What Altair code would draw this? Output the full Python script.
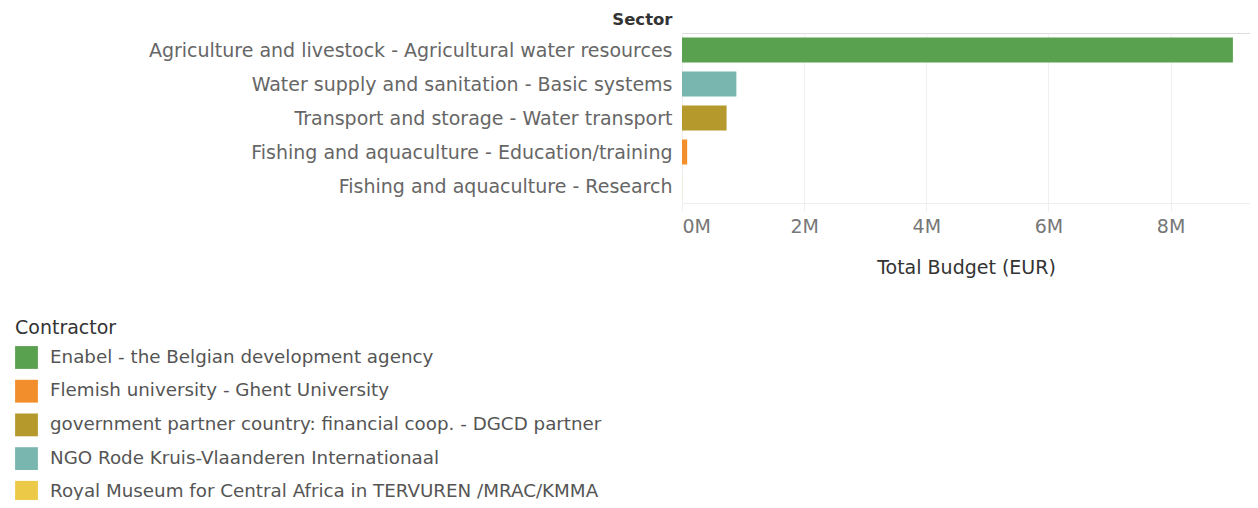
import altair as alt
import pandas as pd

sectors = [
    "Agriculture and livestock - Agricultural water resources",
    "Water supply and sanitation - Basic systems",
    "Transport and storage - Water transport",
    "Fishing and aquaculture - Education/training",
    "Fishing and aquaculture - Research",
]
contractors = [
    "Enabel - the Belgian development agency",
    "NGO Rode Kruis-Vlaanderen Internationaal",
    "government partner country: financial coop. - DGCD partner",
    "Flemish university - Ghent University",
    "Royal Museum for Central Africa in TERVUREN /MRAC/KMMA",
]
budgets = [9020000, 890000, 730000, 85000, 2000]

legend_order = [
    "Enabel - the Belgian development agency",
    "Flemish university - Ghent University",
    "government partner country: financial coop. - DGCD partner",
    "NGO Rode Kruis-Vlaanderen Internationaal",
    "Royal Museum for Central Africa in TERVUREN /MRAC/KMMA",
]
legend_colors = ["#59A14F", "#F28E2B", "#B6992D", "#79B6B0", "#EDC948"]

df = pd.DataFrame({"Sector": sectors, "Contractor": contractors, "Budget": budgets})

FONT = "DejaVu Sans"

chart = alt.Chart(df).mark_bar(size=25).encode(
    y=alt.Y("Sector:N", sort=sectors,
            scale=alt.Scale(paddingInner=0.26, paddingOuter=0.13),
            axis=alt.Axis(title="Sector", titleAngle=0, titleAlign="right",
                          titleAnchor="start", titleX=-10, titleY=-6, titleBaseline="bottom",
                          titleFontWeight="bold", titleColor="#333333", titleFontSize=16.5,
                          labelFontSize=19, labelColor="#666666", labelPadding=10, labelOffset=1,
                          ticks=False, domain=False, grid=False, labelLimit=700)),
    x=alt.X("Budget:Q", scale=alt.Scale(domain=[0, 9300000], nice=False),
            axis=alt.Axis(title="Total Budget (EUR)", values=[0, 2000000, 4000000, 6000000, 8000000],
                          labelExpr="datum.value/1000000 + 'M'", labelFlush=True,
                          labelFontSize=19, labelColor="#777777", labelPadding=6,
                          tickSize=8, tickColor="#eeeeee", domainColor="#eeeeee",
                          gridColor="#f0f0f0", titleFontSize=19, titleFontWeight="normal",
                          titleColor="#333333", titlePadding=22)),
    color=alt.Color("Contractor:N",
                    scale=alt.Scale(domain=legend_order, range=legend_colors),
                    legend=alt.Legend(orient="none", legendX=-667, legendY=286,
                                      title="Contractor", titleFontSize=19, titleColor="#333333",
                                      titleFontWeight="normal", titlePadding=8,
                                      labelFontSize=18.3, labelColor="#555555", symbolType="square",
                                      symbolSize=520, symbolStrokeWidth=0, rowPadding=10.7,
                                      labelOffset=12, labelLimit=800)),
).properties(
    width=568, height=170,
    autosize=alt.AutoSizeParams(type="none"),
    padding={"left": 674, "top": 25, "right": 0, "bottom": 297},
).configure_view(stroke=None).configure(font=FONT)

chart.save("out.html", embed_options={"renderer": "svg", "actions": False})
